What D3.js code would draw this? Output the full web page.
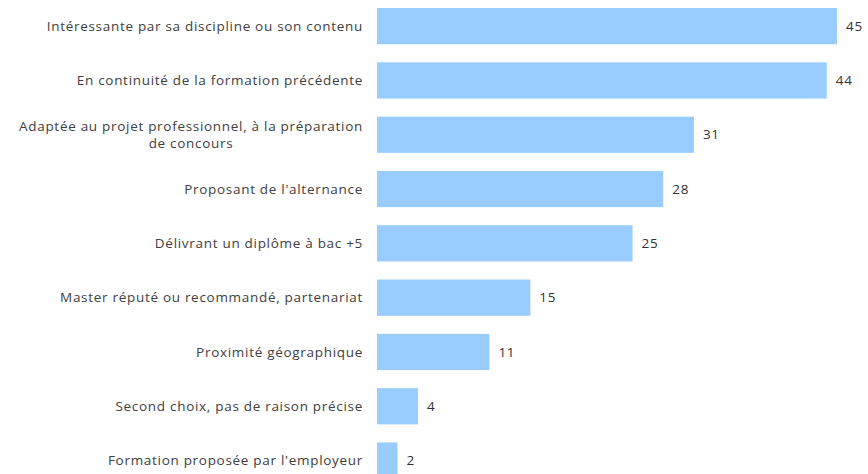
<!DOCTYPE html>
<html>
<head>
<meta charset="utf-8">
<script src="https://cdn.jsdelivr.net/npm/d3@7"></script>
<style>
  body { margin: 0; background: #fff; }
  svg { display: block; font-family: "Open Sans", sans-serif; }
  .label { fill: #404040; font-size: 13.5px; letter-spacing: 0.7px; }
  .value { fill: #333; font-size: 13.5px; letter-spacing: 0.7px; }
  .bar { fill: #99ccff; }
</style>
</head>
<body>
<svg id="chart" width="868" height="474"></svg>
<script>
// motifs de choix de la formation (%)
const categories = [
    "Intéressante par sa discipline ou son contenu",
    "En continuité de la formation précédente",
    "Adaptée au projet professionnel, à la préparation de concours",
    "Proposant de l'alternance",
    "Délivrant un diplôme à bac +5",
    "Master réputé ou recommandé, partenariat",
    "Proximité géographique",
    "Second choix, pas de raison précise",
    "Formation proposée par l'employeur"
];
const values = [45, 44, 31, 28, 25, 15, 11, 4, 2];

const margin = {left: 377, top: -1};
const labelWidth = 356;

let svg = d3.select("#chart");

let x = d3.scaleLinear()
    .domain([0, 45])
    .range([margin.left, margin.left + 460]);

let y = d3.scaleBand()
    .domain(categories)
    .range([margin.top, margin.top + 488.7])
    .paddingInner(0.333)
    .paddingOuter(0.1665);

let data = categories.map((c, i) => ({key: c, value: values[i]}));

// bars
svg.selectAll(".bar")
    .data(data)
    .enter().append("rect")
    .attr("class", "bar")
    .attr("x", x(0))
    .attr("y", d => y(d.key))
    .attr("width", d => x(d.value) - x(0))
    .attr("height", y.bandwidth());

// values
svg.selectAll(".value")
    .data(data)
    .enter().append("text")
    .attr("class", "value")
    .attr("x", d => x(d.value) + 9)
    .attr("y", d => y(d.key) + y.bandwidth() / 2)
    .attr("dy", "0.35em")
    .text(d => d.value);

// category labels, wrapped
let labels = svg.selectAll(".label")
    .data(data)
    .enter().append("text")
    .attr("class", "label")
    .attr("text-anchor", "middle");

labels.each(function(d) {
    let text = d3.select(this);
    let words = d.key.split(" ");
    let lines = [], line = [];
    let probe = text.append("tspan");
    words.forEach(w => {
        line.push(w);
        probe.text(line.join(" "));
        if (probe.node().getComputedTextLength() > labelWidth && line.length > 1) {
            line.pop();
            lines.push(line.join(" "));
            line = [w];
        }
    });
    lines.push(line.join(" "));
    probe.remove();

    let lh = 17;
    let cy = y(d.key) + y.bandwidth() / 2 - (lines.length - 1) * lh / 2;
    // right-aligned block, lines centred within it
    let tmp = text.append("tspan").text(lines[0]);
    let blockW = d3.max(lines, l => { tmp.text(l); return tmp.node().getComputedTextLength(); });
    tmp.remove();
    let cx = x(0) - 14 - blockW / 2;
    lines.forEach((l, i) => {
        text.append("tspan")
            .attr("x", cx)
            .attr("y", cy + i * lh)
            .attr("dy", "0.35em")
            .text(l);
    });
});
</script>
</body>
</html>
